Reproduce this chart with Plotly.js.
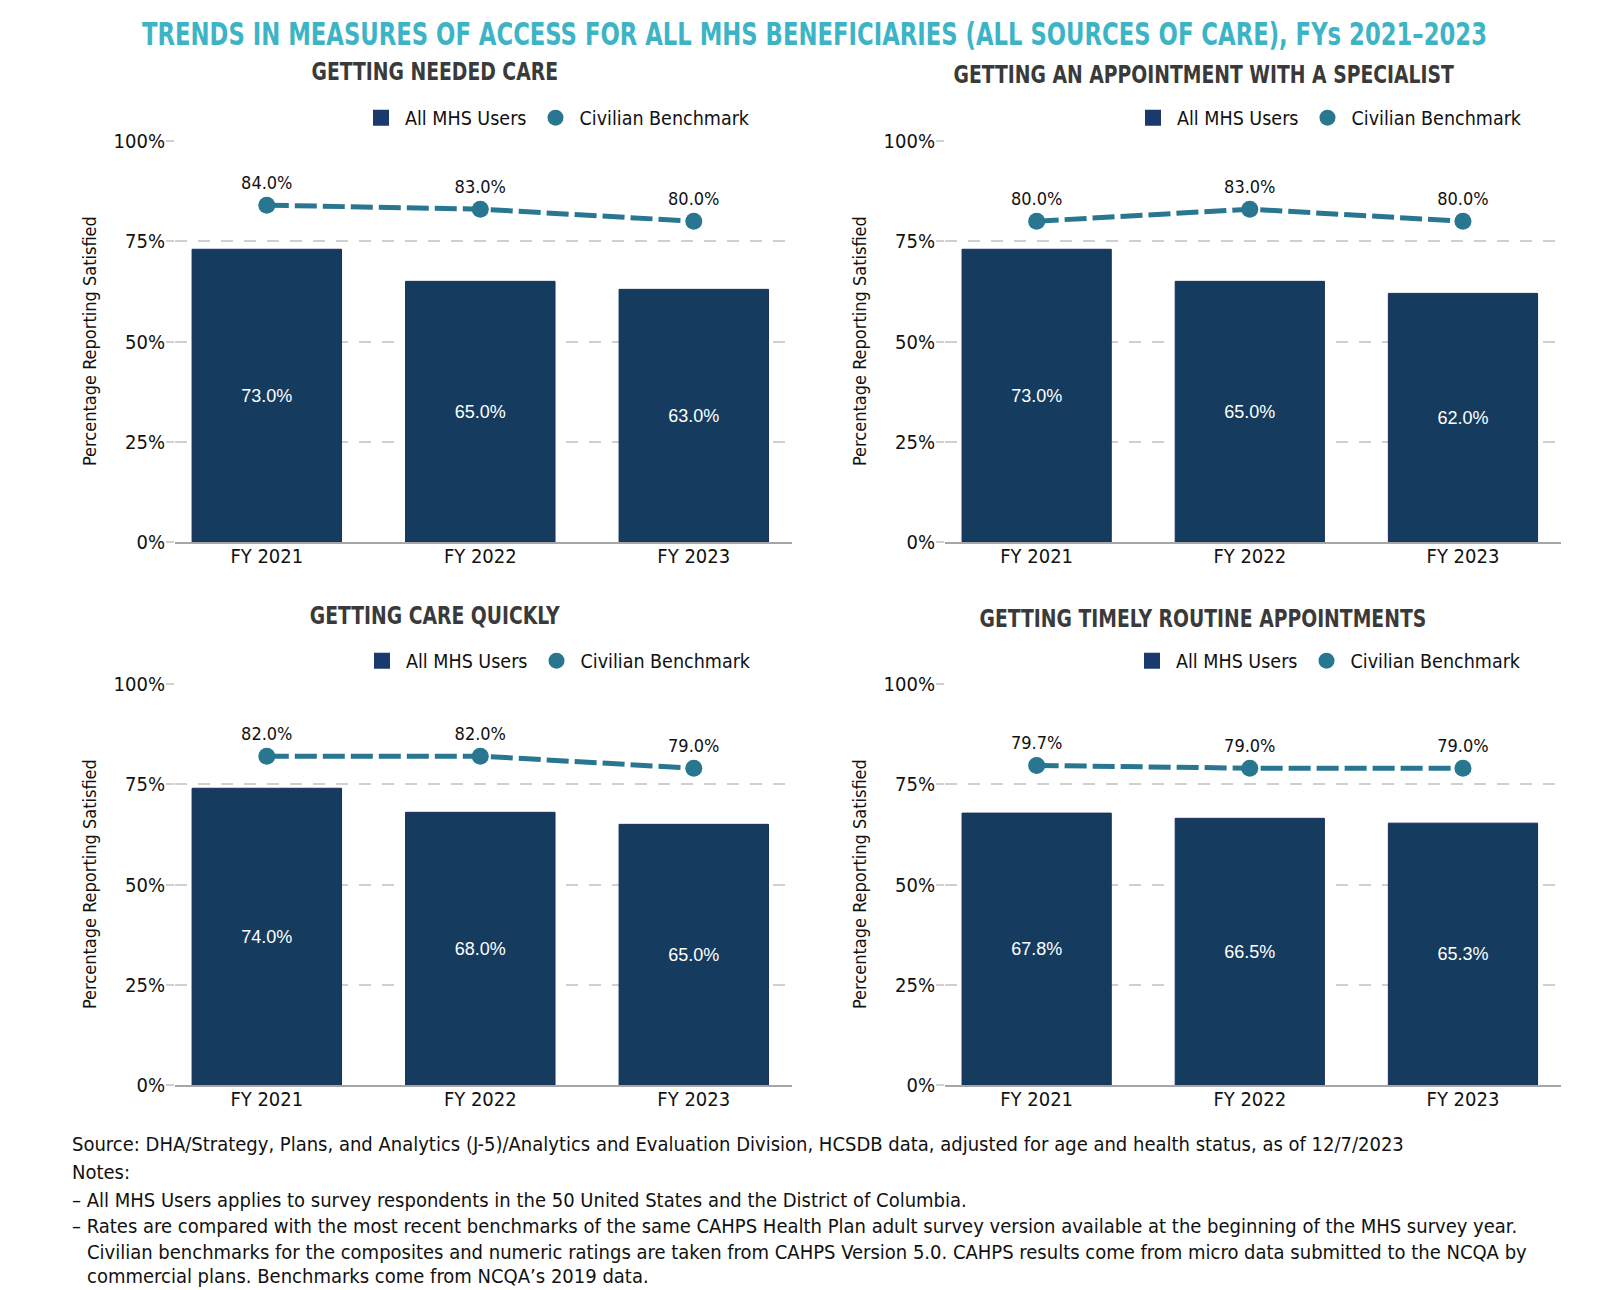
<!DOCTYPE html>
<html>
<head>
<meta charset="utf-8">
<script src="https://cdn.plot.ly/plotly-3.0.1.min.js"></script>
<style>
html,body{margin:0;padding:0;background:#fff;}
#chart{width:1600px;height:1290px;}
/* condense the title texts horizontally to mimic the condensed typeface */
.annotation[data-index="0"] text{transform-box:fill-box;transform-origin:center;transform:scaleX(0.79);}
.annotation[data-index="1"] text,.annotation[data-index="2"] text,
.annotation[data-index="3"] text,.annotation[data-index="4"] text{transform-box:fill-box;transform-origin:center;transform:scaleX(0.87);}
</style>
</head>
<body>
<div id="chart"></div>
<script>
// ---- Data ----
const categories = ["FY 2021", "FY 2022", "FY 2023"];
const panelTitles = [
  "GETTING NEEDED CARE",
  "GETTING AN APPOINTMENT WITH A SPECIALIST",
  "GETTING CARE QUICKLY",
  "GETTING TIMELY ROUTINE APPOINTMENTS"
];
const mhsNeededCare = [73.0, 65.0, 63.0];
const benchNeededCare = [84.0, 83.0, 80.0];
const mhsSpecialist = [73.0, 65.0, 62.0];
const benchSpecialist = [80.0, 83.0, 80.0];
const mhsCareQuickly = [74.0, 68.0, 65.0];
const benchCareQuickly = [82.0, 82.0, 79.0];
const mhsTimelyRoutine = [67.8, 66.5, 65.3];
const benchTimelyRoutine = [79.7, 79.0, 79.0];
const yTickVals = [0, 25, 50, 75, 100];
const yTickText = ["0%", "25%", "50%", "75%", "100%"];
const seriesNames = ["All MHS Users", "Civilian Benchmark"];
const mainTitle = "TRENDS IN MEASURES OF ACCESS FOR ALL MHS BENEFICIARIES (ALL SOURCES OF CARE), FYs 2021–2023";
const yTitle = "Percentage Reporting Satisfied";
const footerLines = [
  "Source: DHA/Strategy, Plans, and Analytics (J-5)/Analytics and Evaluation Division, HCSDB data, adjusted for age and health status, as of 12/7/2023",
  "Notes:",
  "– All MHS Users applies to survey respondents in the 50 United States and the District of Columbia.",
  "– Rates are compared with the most recent benchmarks of the same CAHPS Health Plan adult survey version available at the beginning of the MHS survey year.",
  "Civilian benchmarks for the composites and numeric ratings are taken from CAHPS Version 5.0. CAHPS results come from micro data submitted to the NCQA by",
  "commercial plans. Benchmarks come from NCQA’s 2019 data."
];

// ---- Styling ----
const W = 1600, H = 1290;
const px = x => x / W;
const py = y => 1 - y / H;
const NARROW = "'DejaVu Sans Condensed', 'Liberation Sans Narrow', sans-serif";
const ARIAL = "'Liberation Sans', Arial, sans-serif";
const barColor = "#153c5f";
const barEdge = "#1b2e5c";
const legendBarColor = "#1a3a6e";
const lineColor = "#28768f";

const panels = [
  {mhs: mhsNeededCare, bench: benchNeededCare, xa: "x", ya: "y", lg: "legend"},
  {mhs: mhsSpecialist, bench: benchSpecialist, xa: "x2", ya: "y2", lg: "legend2"},
  {mhs: mhsCareQuickly, bench: benchCareQuickly, xa: "x3", ya: "y3", lg: "legend3"},
  {mhs: mhsTimelyRoutine, bench: benchTimelyRoutine, xa: "x4", ya: "y4", lg: "legend4"}
];

const traces = [];
panels.forEach(p => {
  traces.push({
    type: "bar", x: categories, y: p.mhs, xaxis: p.xa, yaxis: p.ya,
    name: seriesNames[0], legend: p.lg, showlegend: false,
    width: 0.70,
    marker: {color: barColor, line: {color: barEdge, width: 1}},
    text: p.mhs.map(v => v.toFixed(1) + "%"),
    textposition: "inside", insidetextanchor: "middle",
    textfont: {family: ARIAL, size: 18, color: "#ffffff"},
    hoverinfo: "skip"
  });
  traces.push({
    type: "scatter", mode: "lines+markers+text", x: categories, y: p.bench,
    xaxis: p.xa, yaxis: p.ya, name: seriesNames[1], legend: p.lg, showlegend: false,
    line: {color: lineColor, width: 5, dash: "22px,6px"},
    marker: {color: lineColor, size: 17},
    text: p.bench.map(v => v.toFixed(1) + "%"),
    textposition: "top center",
    textfont: {family: NARROW, size: 18, color: "#111"},
    cliponaxis: false, hoverinfo: "skip"
  });
  // legend-only entries
  traces.push({
    type: "scatter", mode: "markers", x: [null], y: [null], xaxis: p.xa, yaxis: p.ya,
    name: seriesNames[0], legend: p.lg, showlegend: true,
    marker: {color: legendBarColor, symbol: "square", size: 16}
  });
  traces.push({
    type: "scatter", mode: "markers", x: [null], y: [null], xaxis: p.xa, yaxis: p.ya,
    name: seriesNames[1], legend: p.lg, showlegend: true,
    marker: {color: lineColor, size: 16}
  });
});

const xDomL = [px(175), px(792)];
const xDomR = [px(945), px(1561)];
const yDomT = [py(542), py(141)];
const yDomB = [py(1085), py(684)];

function xAxis(domain, anchor) {
  return {
    domain: domain, anchor: anchor, type: "category", range: [-0.43, 2.46],
    showline: true, linecolor: "#a6a6a6", linewidth: 2,
    showgrid: false, ticks: "", fixedrange: true, ticklabelstandoff: -5,
    tickfont: {family: NARROW, size: 20, color: "#111"}
  };
}
function yAxis(domain, anchor) {
  return {
    domain: domain, anchor: anchor, range: [0, 100],
    tickvals: yTickVals, ticktext: yTickText,
    showgrid: true, gridcolor: "#cfcfcf", gridwidth: 2, griddash: "12px,11px",
    zeroline: false, showline: false,
    ticks: "outside", ticklen: 8, tickcolor: "#cfcfcf", tickwidth: 2,
    ticklabelstandoff: -3,
    tickfont: {family: NARROW, size: 20, color: "#111"}, fixedrange: true
  };
}

function legend(xpx, ypx) {
  return {
    orientation: "h", x: px(xpx), y: py(ypx), xanchor: "left", yanchor: "middle",
    font: {family: NARROW, size: 19.5, color: "#111"},
    bgcolor: "rgba(0,0,0,0)", itemwidth: 38, tracegroupgap: 0,
    traceorder: "normal"
  };
}

const annotations = [];
annotations.push({
  text: "<b>" + mainTitle + "</b>", x: px(814), y: py(34), xref: "paper", yref: "paper",
  xanchor: "center", yanchor: "middle", showarrow: false,
  font: {family: NARROW, size: 32, color: "#3db4c6"}
});
const titlePos = [[435, 72], [1204, 75], [435, 616], [1203, 619]];
panelTitles.forEach((t, i) => {
  annotations.push({
    text: "<b>" + t + "</b>", x: px(titlePos[i][0]), y: py(titlePos[i][1]),
    xref: "paper", yref: "paper", xanchor: "center", yanchor: "middle", showarrow: false,
    font: {family: NARROW, size: 24, color: "#3a3a3a"}
  });
});
const yTitlePos = [[89, 341], [859, 341], [89, 884], [859, 884]];
yTitlePos.forEach(p => {
  annotations.push({
    text: yTitle, x: px(p[0]), y: py(p[1]), xref: "paper", yref: "paper",
    xanchor: "center", yanchor: "middle", showarrow: false, textangle: -90,
    font: {family: NARROW, size: 18, color: "#111"}
  });
});
const footY = [1144, 1172, 1200, 1226, 1252, 1276];
const footX = [70, 70, 70, 70, 85, 85];
footerLines.forEach((t, i) => {
  annotations.push({
    text: t, x: px(footX[i]), y: py(footY[i]), xref: "paper", yref: "paper",
    xanchor: "left", yanchor: "middle", showarrow: false, align: "left",
    font: {family: NARROW, size: 20, color: "#111"}
  });
});

const layout = {
  width: W, height: H,
  margin: {l: 0, r: 0, t: 0, b: 0},
  paper_bgcolor: "#ffffff", plot_bgcolor: "#ffffff",
  showlegend: true, bargap: 0.3,
  xaxis: xAxis(xDomL, "y"), yaxis: yAxis(yDomT, "x"),
  xaxis2: xAxis(xDomR, "y2"), yaxis2: yAxis(yDomT, "x2"),
  xaxis3: xAxis(xDomL, "y3"), yaxis3: yAxis(yDomB, "x3"),
  xaxis4: xAxis(xDomR, "y4"), yaxis4: yAxis(yDomB, "x4"),
  legend: legend(357, 118),
  legend2: legend(1129, 118),
  legend3: legend(358, 661),
  legend4: legend(1128, 661),
  annotations: annotations
};

Plotly.newPlot("chart", traces, layout, {staticPlot: true, displayModeBar: false});
</script>
</body>
</html>
